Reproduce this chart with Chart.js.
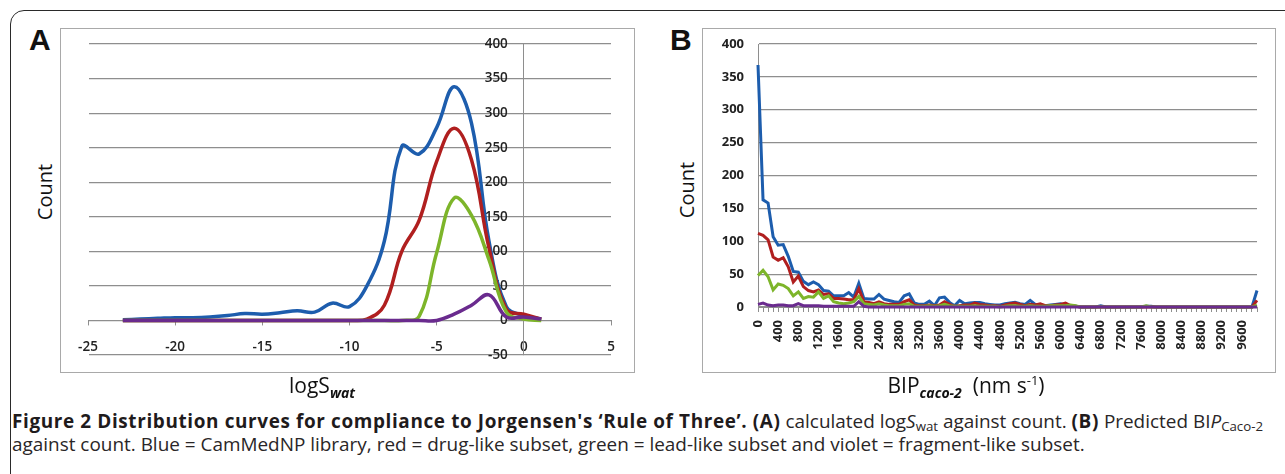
<!DOCTYPE html>
<html>
<head>
<meta charset="utf-8">
<script src="https://cdn.jsdelivr.net/npm/chart.js@4.4.1/dist/chart.umd.min.js"></script>
<style>
  html, body { margin:0; padding:0; }
  body { width:1285px; height:474px; overflow:hidden; background:#fff; position:relative; font-family:'Open Sans', sans-serif; color:#222; }
  .abs { position:absolute; }
  #frame { left:10px; top:10px; width:1320px; height:520px; border:1.5px solid #2a2a2a; border-radius:14px; box-sizing:border-box; }
  .box { border:1px solid #a9a9a9; box-sizing:border-box; }
  .panel { font-family:'Liberation Sans', Arial, sans-serif; font-weight:bold; font-size:30px; line-height:30px; color:#111; }
  .ytitle { font-size:20px; line-height:24px; white-space:nowrap; transform:translate(-50%,-50%) rotate(-90deg); color:#111; }
  .xtitle { font-size:21px; line-height:26px; white-space:nowrap; transform:translate(-50%,-50%); color:#111; }
  .xtitle sub { font-size:14px; font-weight:bold; font-style:italic; vertical-align:-5px; line-height:0; }
  .xtitle sup { font-size:13px; vertical-align:8px; line-height:0; }
  #caption { left:12px; top:410px; font-size:15px; line-height:23px; white-space:nowrap; color:#2a2627; }
  #caption sub { font-size:0.7em; vertical-align:-3px; line-height:0; }
  #caption b { font-weight:700; color:#1f1b1c; }
  canvas { position:absolute; }
</style>
</head>
<body>
<div id="frame" class="abs"></div>
<div class="abs panel" style="left:29px;top:25px;">A</div>
<div class="abs panel" style="left:670px;top:25px;">B</div>
<div class="abs box" style="left:60px;top:28px;width:575px;height:345px;"></div>
<div class="abs box" style="left:702px;top:28px;width:574px;height:345px;"></div>
<canvas id="cA" width="574" height="344" style="left:60px;top:28px;"></canvas>
<canvas id="cB" width="573" height="344" style="left:702px;top:28px;"></canvas>
<div class="abs ytitle" style="left:45px;top:192px;">Count</div>
<div class="abs ytitle" style="left:687px;top:190px;">Count</div>
<div class="abs xtitle" style="left:322px;top:385px;">logS<sub>wat</sub></div>
<div class="abs xtitle" style="left:966px;top:385px;">BIP<sub>caco-2</sub>&nbsp; (nm s<sup>-1</sup>)</div>
<div id="caption" class="abs"><span id="cap1"><b>Figure 2 Distribution curves for compliance to Jorgensen's ‘Rule of Three’. (A)</b> calculated log<i>S</i><sub>wat</sub> against count. <b>(B)</b> Predicted BI<i>P</i><sub>Caco-2</sub></span><br><span id="cap2">against count. Blue = CamMedNP library, red = drug-like subset, green = lead-like subset and violet = fragment-like subset.</span></div>
<script>
// ---------- Panel A data ----------
const logS = [-23,-22,-21,-20,-19,-18,-17,-16,-15,-14,-13,-12,-11,-10,-9,-8,-7,-6,-5,-4,-3,-2,-1,0,1];
const blueA   = [1,2,3,4,4,5,7,10,9,11,14,12,25,20,50,115,252,241,279,338,285,115,20,7,2];
const redA    = [0,0,0,0,0,0,0,0,0,0,0,0,0,0,2,22,100,145,230,278,232,105,16,9,2];
const greenA  = [0,0,0,0,0,0,0,0,0,0,0,0,0,0,0,0,0,6,98,177,152,88,12,2,0];
const purpleA = [0,0,0,0,0,0,0,0,0,0,0,0,0,0,0,0,0,0,0,9,22,37,5,5,2];
const xTicksA = [-25,-20,-15,-10,-5,0,5];
const yTicksA = [-50,0,50,100,150,200,250,300,350,400];

// ---------- Panel B data ----------
const bipCategories = [0,100,200,300,400,500,600,700,800,900,1000,1100,1200,1300,1400,1500,1600,1700,1800,1900,
  2000,2100,2200,2300,2400,2500,2600,2700,2800,2900,3000,3100,3200,3300,3400,3500,3600,3700,3800,3900,
  4000,4100,4200,4300,4400,4500,4600,4700,4800,4900,5000,5100,5200,5300,5400,5500,5600,5700,5800,5900,
  6000,6100,6200,6300,6400,6500,6600,6700,6800,6900,7000,7100,7200,7300,7400,7500,7600,7700,7800,7900,
  8000,8100,8200,8300,8400,8500,8600,8700,8800,8900,9000,9100,9200,9300,9400,9500,9600,9700,9800,9900];
const blueB = [368,163,158,107,94,95,77,54,53,39, 34,38,34,25,24,17,17,17,22,15,
  36,13,12,12,19,12,10,8,7,17, 20,6,4,4,9,2,14,15,7,2, 10,5,6,7,7,5,4,3,3,5,
  6,7,5,4,10,4,3,2,3,4, 5,3,2,1,0,0,0,0,2,0, 0,0,0,0,0,0,0,1,1,0,
  0,0,0,0,0,0,0,0,0,0, 0,0,0,0,0,0,0,0,0,25];
const redB = [112,109,102,76,71,75,61,38,47,31, 25,23,26,19,20,13,13,12,11,11,
  28,8,7,5,8,5,4,4,4,8, 11,3,2,2,3,2,3,8,4,1, 2,3,3,6,4,3,2,2,1,3,
  5,6,4,2,4,3,5,2,2,3, 4,6,2,1,0,0,0,0,0,0, 0,0,0,0,0,0,0,0,0,0,
  0,0,0,0,0,0,0,0,0,0, 0,0,0,0,0,0,0,0,0,10];
const greenB = [48,56,46,26,35,33,28,17,23,13, 16,15,23,13,17,8,6,5,6,8,
  16,5,4,3,5,3,2,2,2,4, 5,1,1,1,2,1,2,4,2,1, 1,1,1,2,1,1,1,1,0,1,
  2,2,1,1,2,1,1,1,2,2, 2,2,3,2,0,0,0,0,0,0, 0,0,0,0,0,0,0,2,0,0,
  0,0,0,0,0,0,0,0,0,0, 0,0,0,0,0,0,0,0,0,3];
const purpleB = [4,6,3,2,3,3,2,2,5,2, 2,2,2,1,1,1,1,1,1,1,
  8,1,0,0,0,0,0,0,0,0, 0,0,0,0,0,0,0,0,0,0, 0,0,0,0,0,0,0,0,0,0,
  0,0,0,0,0,0,0,0,0,0, 0,0,0,0,0,0,0,0,0,0, 0,0,0,0,0,0,0,0,0,0,
  0,0,0,0,0,0,0,0,0,0, 0,0,0,0,0,0,0,0,0,0];
const bipLabelEvery = 4;

// ---------- styles ----------
const COL = { blue:'#1d5dad', red:'#b01f1f', green:'#7db52a', purple:'#6a2b8e' };
const GRID = '#8e8e8e';
const TICKCOL = '#222';

const pts = (xs, ys) => xs.map((x, i) => ({ x, y: ys[i] }));
function ds(label, data, color, order, tension, width) {
  return { label, data, borderColor: color, backgroundColor: color, borderWidth: width,
    pointRadius: 0, tension, clip: false, order, fill: false };
}
const noPadX = s => { s.paddingLeft = 0; s.paddingRight = 0; };
const noPadY = s => { s.paddingTop = 0; s.paddingBottom = 0; };

// Panel A: axes crossing at 0
const crossAxes = {
  id: 'crossAxes',
  afterLayout(chart) {
    const xs = chart.scales.x, ys = chart.scales.y;
    const px = xs.getPixelForValue(0), py = ys.getPixelForValue(0);
    ys.left = px - 80; ys.right = px;
    xs.top = py; xs.bottom = py + 50;
  }
};

new Chart(document.getElementById('cA'), {
  type: 'line',
  data: { datasets: [
    ds('CamMedNP library', pts(logS, blueA), COL.blue, 3, 0.4, 3.5),
    ds('drug-like subset', pts(logS, redA), COL.red, 2, 0.4, 3.5),
    ds('lead-like subset', pts(logS, greenA), COL.green, 1, 0.4, 3.5),
    ds('fragment-like subset', pts(logS, purpleA), COL.purple, 0, 0.4, 3.5)
  ]},
  options: {
    responsive: false, animation: false,
    layout: { autoPadding: false, padding: { left: 28, right: 23, top: 16, bottom: 17 } },
    plugins: { legend: { display: false }, tooltip: { enabled: false } },
    scales: {
      x: { type: 'linear', position: 'bottom', min: xTicksA[0], max: xTicksA[xTicksA.length-1],
        afterBuildTicks: s => { s.ticks = xTicksA.map(v => ({ value: v })); },
        afterFit: s => { s.height = 0; noPadX(s); },
        grid: { drawOnChartArea: false, drawTicks: true, tickLength: 5, color: GRID, lineWidth: 1 },
        border: { display: true, color: GRID, width: 1 },
        ticks: { padding: 14, color: TICKCOL, font: { family: 'Open Sans', size: 13.5, weight: '600' }, maxRotation: 0 } },
      y: { type: 'linear', position: 'left', min: yTicksA[0], max: yTicksA[yTicksA.length-1],
        afterBuildTicks: s => { s.ticks = yTicksA.map(v => ({ value: v })); },
        afterFit: s => { s.width = 0; noPadY(s); },
        grid: { drawTicks: false, color: GRID, lineWidth: 1.2 },
        border: { display: true, color: GRID, width: 1 },
        ticks: { padding: 16, color: TICKCOL, font: { family: 'Open Sans', size: 13.5, weight: '600' } } }
    }
  },
  plugins: [crossAxes]
});

new Chart(document.getElementById('cB'), {
  type: 'line',
  data: { labels: bipCategories.map(String), datasets: [
    ds('CamMedNP library', blueB, COL.blue, 3, 0, 3),
    ds('drug-like subset', redB, COL.red, 2, 0, 3),
    ds('lead-like subset', greenB, COL.green, 1, 0, 3),
    ds('fragment-like subset', purpleB, COL.purple, 0, 0, 3)
  ]},
  options: {
    responsive: false, animation: false,
    layout: { autoPadding: false, padding: { left: 0, right: 18, top: 16, bottom: 0 } },
    plugins: { legend: { display: false }, tooltip: { enabled: false } },
    scales: {
      x: { type: 'category', offset: false,
        afterFit: s => { s.height = 65; noPadX(s); },
        grid: { drawOnChartArea: false, drawTicks: true, tickLength: 5, color: GRID, lineWidth: 1 },
        border: { display: true, color: GRID, width: 1 },
        ticks: { autoSkip: false, minRotation: 90, maxRotation: 90, padding: 8, color: TICKCOL,
          font: { family: 'Open Sans', size: 13, weight: 'bold' },
          callback: function(v, i) { return i % bipLabelEvery === 0 ? this.getLabelForValue(v) : ''; } } },
      y: { min: 0, max: 400,
        ticks: { stepSize: 50, padding: 14, color: TICKCOL, font: { family: 'Open Sans', size: 13, weight: 'bold' } },
        afterFit: s => { s.width = 56; noPadY(s); },
        grid: { drawTicks: false, color: GRID, lineWidth: 1.2 },
        border: { display: true, color: GRID, width: 1 } }
    }
  }
});

// fit caption lines to their widths in the figure
const cap = document.getElementById('caption');
const l1 = document.getElementById('cap1'), l2 = document.getElementById('cap2');
let f = 15;
cap.style.fontSize = f + 'px';
f = f * 1234 / l1.getBoundingClientRect().width;
cap.style.fontSize = f.toFixed(2) + 'px';
const w2 = l2.getBoundingClientRect().width;
f = f * (w2 - 30) / w2;
cap.style.fontSize = f.toFixed(2) + 'px';
const w1 = l1.getBoundingClientRect().width;
const bolds = l1.querySelectorAll('b');
let n = 0; bolds.forEach(b => { n += b.textContent.length; });
const ls = (1251 - w1) / n;
bolds.forEach(b => { b.style.letterSpacing = ls.toFixed(3) + 'px'; });
</script>
</body>
</html>
